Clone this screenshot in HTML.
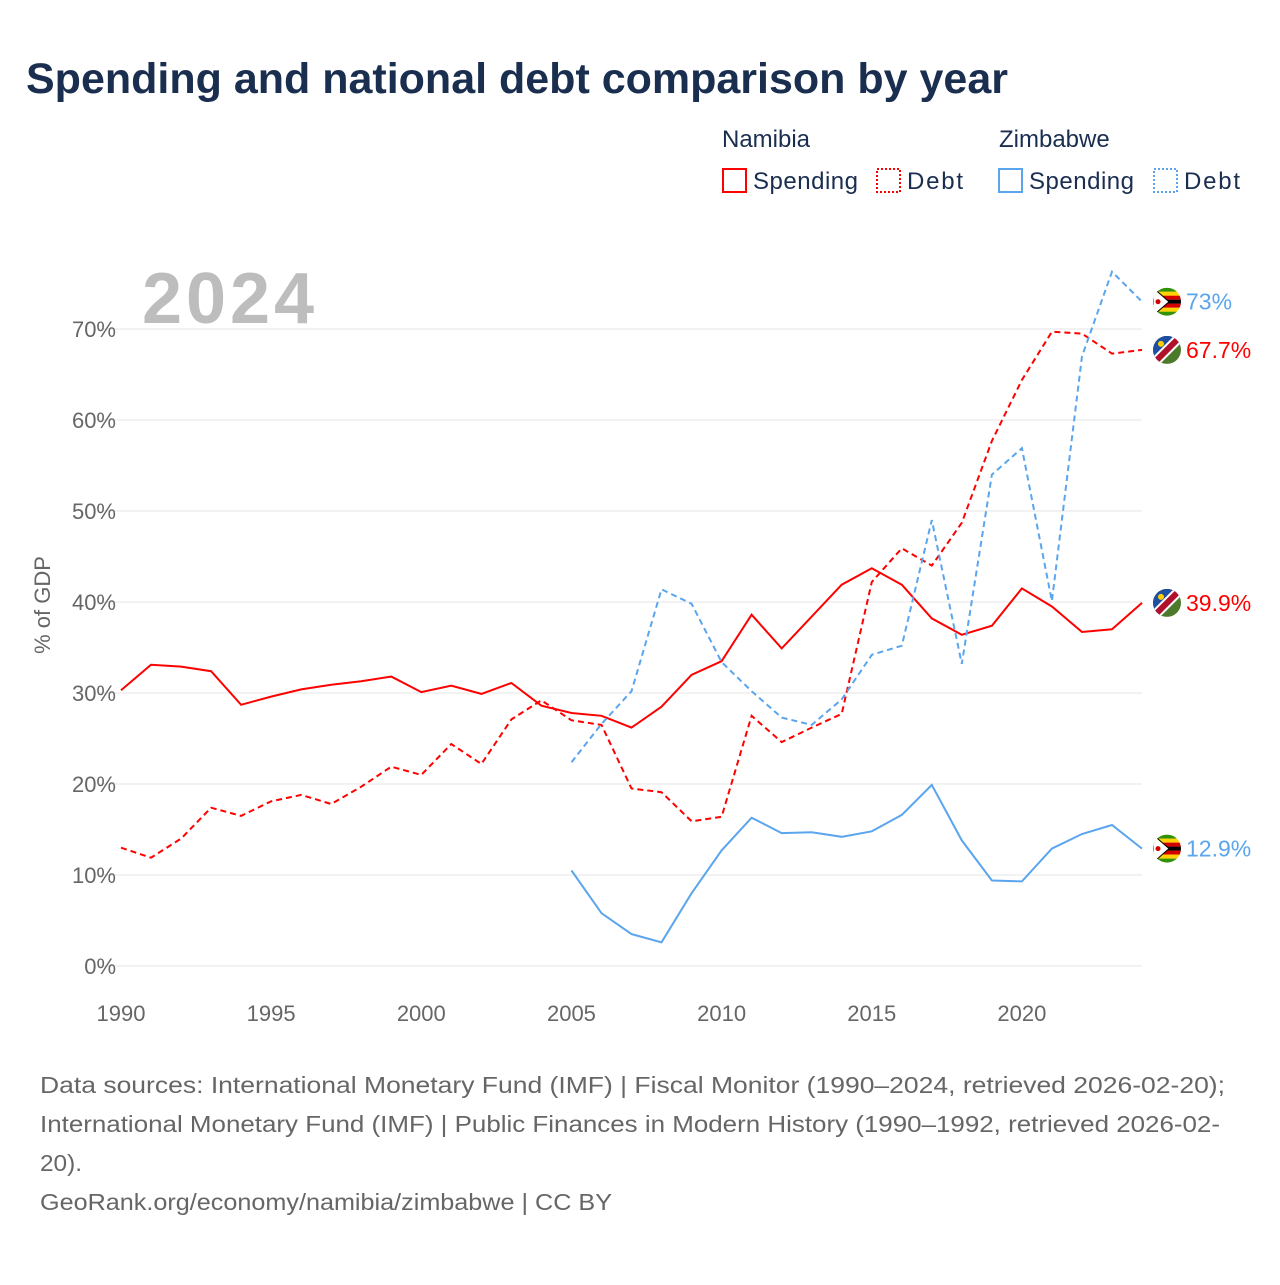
<!DOCTYPE html>
<html><head><meta charset="utf-8"><style>
body{margin:0;background:#fff;width:1280px;height:1280px;overflow:hidden;font-family:"Liberation Sans",sans-serif}
svg text{font-family:"Liberation Sans",sans-serif}
</style></head><body>
<svg id="c" width="1280" height="1280">
<text x="26" y="93" font-size="43" font-weight="bold" fill="#1a2e4f">Spending and national debt comparison by year</text>
<g font-size="24" fill="#1a2e4f">
<text x="722" y="147" fill="#1a2e4f">Namibia</text>
<text x="999" y="147" fill="#1a2e4f">Zimbabwe</text>
<g><rect x="723" y="169" width="23" height="23" fill="none" stroke="#f00" stroke-width="2"/><text x="753" y="189" fill="#1a2e4f" textLength="105">Spending</text></g>
<g><rect x="877" y="169" width="23" height="23" fill="none" stroke="#f00" stroke-width="2" stroke-dasharray="2,2"/><text x="907" y="189" fill="#1a2e4f" textLength="56">Debt</text></g>
<g><rect x="999" y="169" width="23" height="23" fill="none" stroke="#5aa5ee" stroke-width="2"/><text x="1029" y="189" fill="#1a2e4f" textLength="105">Spending</text></g>
<g><rect x="1154" y="169" width="23" height="23" fill="none" stroke="#5aa5ee" stroke-width="2" stroke-dasharray="2,2"/><text x="1184" y="189" fill="#1a2e4f" textLength="56">Debt</text></g>
</g>
<text x="142" y="323" font-size="72" font-weight="bold" fill="#bdbdbd" textLength="172">2024</text>
<g id="grid"></g><g id="series"></g><g id="labels"></g>
<text transform="translate(50,605) rotate(-90)" text-anchor="middle" font-size="22" fill="#666">% of GDP</text>
<g font-size="23" fill="#666">
<text x="40" y="1093" textLength="1185" lengthAdjust="spacingAndGlyphs">Data sources: International Monetary Fund (IMF) | Fiscal Monitor (1990–2024, retrieved 2026-02-20);</text>
<text x="40" y="1132" textLength="1180" lengthAdjust="spacingAndGlyphs">International Monetary Fund (IMF) | Public Finances in Modern History (1990–1992, retrieved 2026-02-</text>
<text x="40" y="1171" textLength="42" lengthAdjust="spacingAndGlyphs">20).</text>
<text x="40" y="1210" textLength="572" lengthAdjust="spacingAndGlyphs">GeoRank.org/economy/namibia/zimbabwe | CC BY</text>
</g>
</svg>
<script>
const years=[];for(let y=1990;y<=2024;y++)years.push(y);
const namSpend=[30.3,33.1,32.9,32.4,28.7,29.6,30.4,30.9,31.3,31.8,30.1,30.8,29.9,31.1,28.6,27.8,27.5,26.2,28.5,32.0,33.5,38.6,34.9,38.4,41.9,43.7,41.9,38.2,36.4,37.4,41.5,39.5,36.7,37.0,39.9];
const namDebt=[13.0,11.9,14.0,17.4,16.5,18.1,18.8,17.8,19.7,21.9,21.0,24.4,22.2,27.1,29.2,27.0,26.5,19.5,19.1,15.9,16.4,27.5,24.6,26.2,27.7,42.2,45.9,44.0,48.7,57.7,64.4,69.7,69.5,67.3,67.7];
const zimYears=[2005,2006,2007,2008,2009,2010,2011,2012,2013,2014,2015,2016,2017,2018,2019,2020,2021,2022,2023,2024];
const zimSpend=[10.5,5.8,3.5,2.6,8.0,12.7,16.3,14.6,14.7,14.2,14.8,16.6,19.9,13.8,9.4,9.3,12.9,14.5,15.5,12.9];
const zimDebt=[22.4,26.6,30.2,41.4,39.8,33.4,30.2,27.3,26.5,29.3,34.2,35.2,49.0,33.2,54.0,56.9,40.1,67.0,76.3,73.0];
const yTicks=[0,10,20,30,40,50,60,70];
const xTicks=[1990,1995,2000,2005,2010,2015,2020];
const NS='http://www.w3.org/2000/svg';
const X=y=>121+(y-1990)*30.03, Y=v=>966-v*9.1;
function mk(t,a,p){const e=document.createElementNS(NS,t);for(const k in a)e.setAttribute(k,a[k]);p.appendChild(e);return e;}
const grid=document.getElementById('grid'),ser=document.getElementById('series'),lab=document.getElementById('labels');
yTicks.forEach(v=>{
 const l=mk('line',{x1:98,x2:1142,y1:Y(v),y2:Y(v),stroke:'#e6e6e6','stroke-width':1},grid);
 
 
 const t=mk('text',{x:116,y:Y(v)+8,'text-anchor':'end','font-size':22,fill:'#666'},grid);t.textContent=v+'%';
 
 
});
xTicks.forEach(v=>{
 const t=mk('text',{x:X(v),y:1021,'text-anchor':'middle','font-size':22,fill:'#666'},grid);t.textContent=v;
 
 
});
function line(xs,vs,col,dash,name){
 const d=vs.map((v,i)=>(i?'L':'M')+X(xs[i]).toFixed(1)+','+Y(v).toFixed(1)).join('');
 const p=mk('path',{d:d,fill:'none',stroke:col,'stroke-width':2,'stroke-dasharray':dash?'6,4':'none'},ser);
 
 
}
line(years,namSpend,'#f00',false,'namibia-spending-line');
line(years,namDebt,'#f00',true,'namibia-debt-line');
line(zimYears,zimSpend,'#5aa5ee',false,'zimbabwe-spending-line');
line(zimYears,zimDebt,'#5aa5ee',true,'zimbabwe-debt-line');
function flag(cx,cy,type,name){
 const g=mk('g',{},lab);
 
 
 const id='cl'+Math.round(cy);
 const cp=mk('clipPath',{id:id},g);mk('circle',{cx:cx,cy:cy,r:14},cp);
 const h=mk('g',{'clip-path':'url(#'+id+')'},g);
 if(type==='zim'){
  const c=['#319208','#ffd200','#d40000','#000','#d40000','#ffd200','#319208'];
  c.forEach((f,i)=>mk('rect',{x:cx-14,y:cy-14+i*4,width:28,height:4.1,fill:f},h));
  mk('path',{d:`M${cx-14},${cy-14}L${cx+2},${cy}L${cx-14},${cy+14}Z`,fill:'#fff',stroke:'#000','stroke-width':1},h);
  mk('circle',{cx:cx-9,cy:cy,r:2.5,fill:'#d40000'},h);
 }else{
  mk('rect',{x:cx-14,y:cy-14,width:28,height:28,fill:'#4a7a2a'},h);
  mk('path',{d:`M${cx-14},${cy-14}L${cx+14},${cy-14}L${cx-14},${cy+14}Z`,fill:'#1f4fa0'},h);
  mk('line',{x1:cx-16,y1:cy+16,x2:cx+16,y2:cy-16,stroke:'#fff','stroke-width':10},h);
  mk('line',{x1:cx-16,y1:cy+16,x2:cx+16,y2:cy-16,stroke:'#b0102a','stroke-width':6},h);
  mk('circle',{cx:cx-6,cy:cy-6,r:3,fill:'#ffce00'},h);
 }
}
function endLabel(vs,type,col,txt,name){
 const v=vs[vs.length-1],cy=Y(v);
 flag(1167,cy,type,name+'-flag');
 const t=mk('text',{x:1186,y:cy+8,'font-size':23,fill:col},lab);t.textContent=txt;
 
 
}
endLabel(zimDebt,'zim','#5aa5ee','73%','zimbabwe-debt');
endLabel(namDebt,'nam','#f00','67.7%','namibia-debt');
endLabel(namSpend,'nam','#f00','39.9%','namibia-spending');
endLabel(zimSpend,'zim','#5aa5ee','12.9%','zimbabwe-spending');
</script>
</body></html>
